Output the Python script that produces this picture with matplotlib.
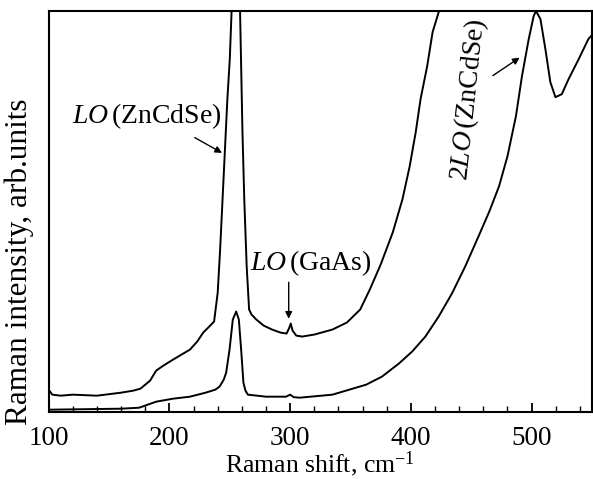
import matplotlib
matplotlib.use('Agg')
import matplotlib.pyplot as plt
from matplotlib.ticker import MultipleLocator

plt.rcParams['font.family'] = 'Liberation Serif'
plt.rcParams['mathtext.fontset'] = 'custom'
plt.rcParams['mathtext.rm'] = 'Liberation Serif'
plt.rcParams['mathtext.it'] = 'Liberation Serif:italic'
plt.rcParams['axes.linewidth'] = 1.5
plt.rcParams['xtick.direction'] = 'in'
plt.rcParams['xtick.major.size'] = 6.5
plt.rcParams['xtick.minor.size'] = 4.0
plt.rcParams['xtick.major.width'] = 1.3
plt.rcParams['xtick.minor.width'] = 1.0

# upper spectrum (strong LO(ZnCdSe) peak runs off scale)
shift_a = [100, 103, 110, 120, 140, 160, 170, 176, 184, 189, 195, 203, 210, 217,
           223, 228, 233, 237, 240, 242, 244, 246, 248, 250, 251.5, 255, 258.5,
           260.5, 262, 264, 266, 268, 272, 278, 285, 292, 297, 299, 300.5, 302,
           305, 310, 320, 335, 347, 358, 366, 375, 385, 393, 399, 404, 408, 413.5,
           418, 423.3, 426]
int_a = [22, 17, 16, 17, 16, 19, 21, 23, 31, 41, 46, 52, 57, 62,
         70, 79, 85, 90, 119, 162, 212, 262, 312, 352, 400, 800, 400,
         279, 212, 145, 102, 97, 92, 86, 82, 79, 78, 83, 88, 81,
         76, 75, 77, 82, 89, 102, 122, 147, 179, 212, 245, 279, 312, 345,
         379, 400, 420]

# lower spectrum
shift_b = [100, 130, 160, 175, 189, 203, 217, 230, 238, 241.5, 245, 247, 249.8,
           252.5, 255.3, 257.5, 259.4, 261.3, 263, 265, 280, 296.6, 300, 303,
           308, 335, 363, 376, 390, 401, 412, 423, 434, 445, 456, 465,
           473, 480, 487, 492, 497.6, 501.7, 503.6, 507.3, 511.4, 515.5,
           519.7, 525, 530.6, 539, 547, 550]
int_b = [2, 2.5, 3, 4, 10, 13, 15, 19, 22, 25, 32, 39, 62,
         92, 100, 92, 62, 29, 21, 17, 15, 15, 17, 14.5,
         14, 17, 27, 35, 48, 60, 75, 95, 118, 145, 175, 200,
         225, 255, 295, 335, 372, 395, 400, 392, 362, 329,
         314, 317, 332, 352, 372, 376]

fig = plt.figure(figsize=(5.93, 4.79), dpi=100)
ax = fig.add_axes([0.0821, 0.1405, 0.9162, 0.8365])
ax.plot(shift_a, int_a, 'k', lw=1.4)
ax.plot(shift_b, int_b, 'k', lw=1.4)
ax.set_xlim(100, 550)
ax.set_ylim(0, 400)
ax.xaxis.set_major_locator(MultipleLocator(100))
ax.xaxis.set_minor_locator(MultipleLocator(20))
ax.set_yticks([])
ax.tick_params(axis='x', labelsize=19.5, pad=10)

ax.set_xlabel('Raman shift, cm$^{-1}$', fontsize=18.5, labelpad=-0.5)
ax.set_ylabel('Raman intensity, arb.units', fontsize=22.5)
ax.yaxis.set_label_coords(-0.027, 0.375)

arr = dict(arrowstyle='-|>', color='k', lw=1.0, mutation_scale=10)
ax.annotate('', xy=(245.6, 257), xytext=(219, 275), arrowprops=arr)
ax.text(181, 295, '$\\mathit{LO}\\,$(ZnCdSe)', fontsize=20, ha='center', va='center')
ax.annotate('', xy=(298.8, 90), xytext=(298.8, 132), arrowprops=arr)
ax.text(316.7, 148, '$\\mathit{LO}\\,$(GaAs)', fontsize=20, ha='center', va='center')
ax.annotate('', xy=(492, 355), xytext=(466, 334), arrowprops=arr)
ax.text(448, 312, '2$\\mathit{LO}\\,$(ZnCdSe)', fontsize=20, ha='center', va='center',
        rotation=84)

plt.savefig('out.png', dpi=100)
